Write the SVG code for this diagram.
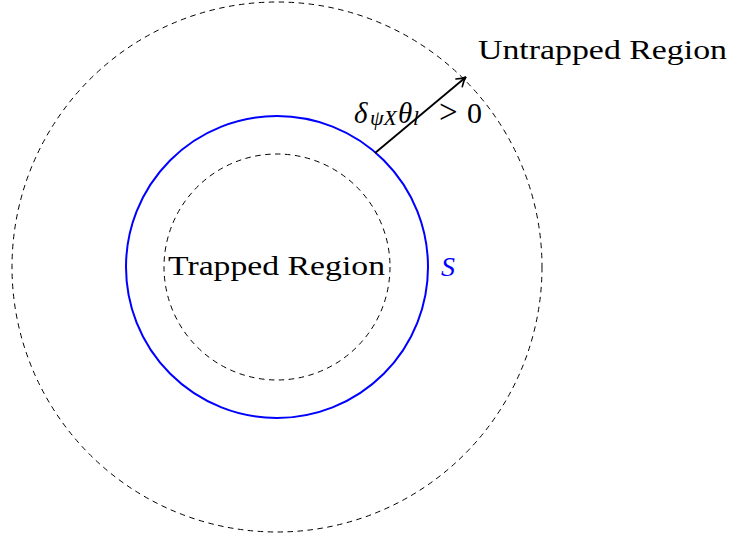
<svg xmlns="http://www.w3.org/2000/svg" width="731" height="537" viewBox="0 0 731 537">
<defs>
<style>
.dash{fill:none;stroke:#000;stroke-width:1;stroke-dasharray:5.5 4.5}
.txt{font-family:"Liberation Serif","Times New Roman",serif;fill:#000}
.it{font-style:italic}
</style>
<marker id="arr" viewBox="0 0 14 14" refX="11" refY="7" markerWidth="14" markerHeight="14" markerUnits="userSpaceOnUse" orient="auto">
<path d="M2,2 Q7,6 11,7 Q7,8 2,12" fill="none" stroke="#000" stroke-width="1.6" stroke-linecap="round"/>
</marker>
</defs>
<g id="untrapped-region">
<circle class="dash" cx="277" cy="267" r="265"/>
<text class="txt" x="478" y="59" font-size="28" textLength="249" lengthAdjust="spacingAndGlyphs">Untrapped Region</text>
</g>
<g id="surface-S">
<circle cx="277" cy="267" r="151" fill="none" stroke="#0000ff" stroke-width="2"/>
<text class="txt it" x="441" y="276" font-size="28" style="fill:#0000ff">S</text>
</g>
<g id="trapped-region">
<circle class="dash" cx="277" cy="267" r="113"/>
<text class="txt" x="168" y="275" font-size="28" textLength="217" lengthAdjust="spacingAndGlyphs">Trapped Region</text>
</g>
<g id="connectors">
<line x1="375" y1="153" x2="466" y2="77" stroke="#000" stroke-width="1.8" marker-end="url(#arr)"/>
</g>
<g id="label">
<text class="txt" font-size="29" y="123"><tspan class="it" x="354">δ</tspan><tspan class="it" x="370" dy="2" font-size="21" textLength="27" lengthAdjust="spacingAndGlyphs">ψX</tspan><tspan class="it" x="398" dy="-2">θ</tspan><tspan class="it" x="413" dy="2" font-size="21">l</tspan><tspan x="439" dy="-2" font-size="33">&gt;</tspan><tspan x="467" font-size="30">0</tspan></text>
</g>
</svg>
